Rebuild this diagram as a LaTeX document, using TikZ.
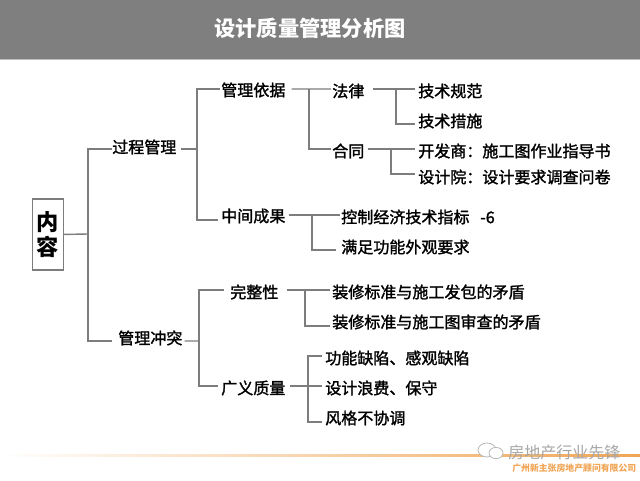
\documentclass[tikz,border=0pt]{standalone}
\usepackage{fontspec}
\setmainfont{Noto Sans CJK SC}
\newfontfamily\labfont[FakeBold=1.6]{Noto Sans CJK SC}
\definecolor{barGray}{RGB}{127,127,127}
\definecolor{lineGray}{RGB}{125,125,125}
\definecolor{footOrange}{RGB}{240,165,85}
\tikzstyle{line} = [draw=lineGray,line width=0.035cm]
\tikzstyle{lab} = [inner sep=0pt,anchor=west,font=\fontsize{11.4pt}{13pt}\labfont]

\begin{document}
\begin{tikzpicture}
\useasboundingbox (0,0) rectangle (16,-12);
%header
\fill[barGray] (0,0) rectangle (16,-1.475);
\fill[lightgray] (0,-1.475) rectangle (16,-1.51);
\node[inner sep=0pt,text=white,font=\fontsize{15.1pt}{16pt}\selectfont\bfseries] (title) at (7.75,-0.7) {设计质量管理分析图};

%footer
\shade[left color=white,right color=footOrange] (0,-11.36) rectangle (16,-11.41);
\draw[gray!55,fill=white,line width=0.02cm] (12.175,-11.25) ellipse (0.225 and 0.175);% big bubble
\draw[gray!55,fill=white,line width=0.02cm] (12.4,-11.325) ellipse (0.175 and 0.14);% small bubble
\node[lab,text=gray!70,font=\fontsize{11.4pt}{13pt}\selectfont] (mark) at (12.7,-11.3) {房地产行业先锋};
\node[lab,text=footOrange,font=\fontsize{6.3pt}{7pt}\selectfont\bfseries] (company) at (12.8,-11.7) {广州新主张房地产顾问有限公司};

%root
\node[draw=lineGray,line width=0.03cm,inner sep=0pt,minimum width=0.775cm,minimum height=1.775cm,align=center,font=\fontsize{15.8pt}{17.8pt}\selectfont\bfseries] (content) at (1.19,-5.86) {内\\容};

%level one
\node[lab] (process) at (2.8,-3.675) {过程管理};
\node[lab] (conflict) at (2.95,-8.45) {管理冲突};
%level two
\node[lab] (basis) at (5.525,-2.25) {管理依据};
\node[lab] (result) at (5.525,-5.4) {中间成果};
\node[lab] (whole) at (5.75,-7.3) {完整性};
\node[lab] (quality) at (5.525,-9.7) {广义质量};
%level three
\node[lab] (law) at (8.3,-2.275) {法律};
\node[lab] (contract) at (8.3,-3.775) {合同};
\node[lab] (index) at (8.525,-5.425) {控制经济技术指标~~~-6};
\node[lab] (looks) at (8.525,-6.175) {满足功能外观要求};
\node[lab] (clashA) at (8.3,-7.3) {装修标准与施工发包的矛盾};
\node[lab] (clashB) at (8.3,-8.05) {装修标准与施工图审查的矛盾};
\node[lab] (defect) at (8.125,-8.95) {功能缺陷、感观缺陷};
\node[lab] (waste) at (8.125,-9.7) {设计浪费、保守};
\node[lab] (manner) at (8.125,-10.45) {风格不协调};
%level four
\node[lab] (spec) at (10.45,-2.275) {技术规范};
\node[lab] (measure) at (10.45,-3.025) {技术措施};
\node[lab] (dev) at (10.45,-3.775) {开发商：施工图作业指导书};
\node[lab] (design) at (10.45,-4.425) {设计院：设计要求调查问卷};

%spines
\coordinate (s0) at (2.2,-5.85);
\coordinate (s1) at (4.925,-3.725);
\coordinate (s2) at (4.975,-8.525);
\coordinate (s3) at (7.725,-2.225);
\coordinate (s4) at (7.8,-5.375);
\coordinate (s5) at (9.9,-2.225);
\coordinate (s6) at (9.775,-3.725);
\coordinate (s7) at (7.625,-7.25);
\coordinate (s8) at (7.7,-9.65);

\path[line] (content.east) -- (s0);
\path[line] ([yshift=-0.05cm]process.west) -| (s0);
\path[line] ([shift={(-0.15,-0.075)}]conflict.west) -| (s0);

\path[line] ([shift={(0.1,-0.05)}]process.east) -- (s1);
\path[line] ([shift={(-0.025,0.025)}]basis.west) -| (s1);
\path[line] ([shift={(-0.075,-0.1)}]result.west) -| (s1);

\path[line] ([shift={(0.05,-0.075)}]conflict.east) -- (s2);
\path[line] ([shift={(-0.15,0.05)}]whole.west) -| (s2);
\path[line] ([shift={(-0.075,0.05)}]quality.west) -| (s2);

\path[line] ([shift={(0.15,0.025)}]basis.east) -- ([shift={(-0.025,0.05)}]law.west);
\path[line] ([shift={(-0.025,0.05)}]contract.west) -| (s3);

\path[line] ([shift={(0.075,0.025)}]result.east) -- ([shift={(-0.025,0.05)}]index.west);
\path[line] ([shift={(-0.125,-0.075)}]looks.west) -| (s4);

\path[line] ([shift={(0.2,0.05)}]law.east) -- ([shift={(-0.075,0.05)}]spec.west);
\path[line] ([shift={(-0.075,-0.075)}]measure.west) -| (s5);

\path[line] ([shift={(0.075,0.05)}]contract.east) -- ([shift={(-0.075,0.05)}]dev.west);
\path[line] ([shift={(-0.075,0.075)}]design.west) -| (s6);

\path[line] ([shift={(0.2,0.05)}]whole.east) -- ([shift={(-0.05,0.05)}]clashA.west);
\path[line] ([shift={(-0.05,-0.1)}]clashB.west) -| (s7);

\path[line] ([shift={(0.1,0.05)}]quality.east) -- ([shift={(-0.075,0.05)}]waste.west);
\path[line] ([shift={(-0.075,0.05)}]defect.west) -| (s8);
\path[line] ([shift={(-0.075,-0.1)}]manner.west) -| (s8);
\end{tikzpicture}
\end{document}
